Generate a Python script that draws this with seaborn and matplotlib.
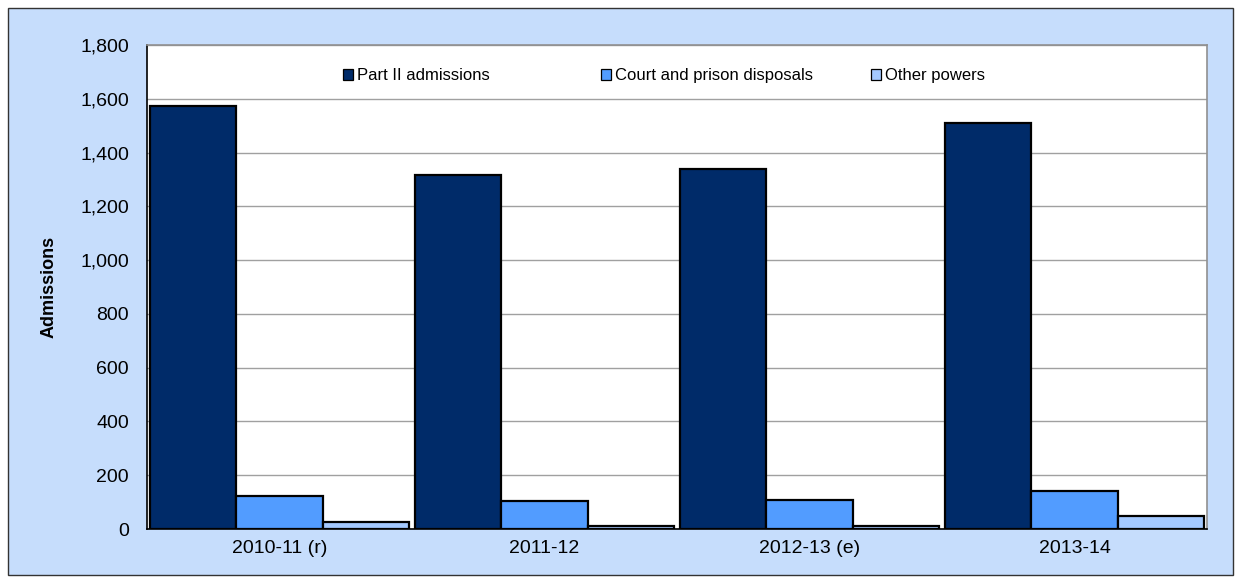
import matplotlib
matplotlib.use("Agg")
import matplotlib.pyplot as plt
from matplotlib.patches import Rectangle
import seaborn as sns
import pandas as pd

years = ["2010-11 (r)", "2011-12", "2012-13 (e)", "2013-14"]
series = ["Part II admissions", "Court and prison disposals", "Other powers"]
part2 = [1575, 1317, 1338, 1510]
court = [122, 105, 107, 141]
other = [25, 10, 10, 49]
yticks = [0, 200, 400, 600, 800, 1000, 1200, 1400, 1600, 1800]
colors = ["#002B69", "#529CFF", "#A4C9FF"]

rows = []
for vals, s in zip([part2, court, other], series):
    for y, v in zip(years, vals):
        rows.append({"Year": y, "Series": s, "Admissions": v})
df = pd.DataFrame(rows)

sns.set_style("white")
plt.rcParams["font.family"] = ["Liberation Sans", "DejaVu Sans"]
plt.rcParams["text.color"] = "black"
plt.rcParams["xtick.color"] = "black"
plt.rcParams["ytick.color"] = "black"
plt.rcParams["axes.labelcolor"] = "black"

fig = plt.figure(figsize=(12.41, 5.83), dpi=100)
fig.patch.set_facecolor("white")
bg = Rectangle((8 / 1241, 8 / 583), 1 - 16 / 1241, 1 - 16 / 583, transform=fig.transFigure,
               facecolor="#C6DDFC", edgecolor="#333333", linewidth=1.0, zorder=-10)
fig.patches.append(bg)

ax = fig.add_axes([147 / 1241, 1 - 529 / 583, (1207 - 147) / 1241, (529 - 45) / 583])
ax.set_facecolor("white")

sns.barplot(data=df, x="Year", y="Admissions", hue="Series", hue_order=series,
            order=years, palette=colors, width=0.98, edgecolor="black",
            linewidth=1.6, saturation=1, ax=ax, zorder=3)

ax.set_ylim(0, 1800)
ax.set_xlim(-0.5, 3.5)
ax.set_yticks(yticks)
ax.set_yticklabels([f"{v:,}" for v in yticks], fontsize=14)
ax.yaxis.grid(True, color="#A0A0A0", linewidth=1.0, zorder=0)
ax.set_axisbelow(True)

ax.set_xticks(range(len(years)))
ax.set_xticklabels(years, fontsize=14)
ax.tick_params(axis="x", which="major", length=0, pad=8)
ax.set_xticks([-0.5, 0.5, 1.5, 2.5, 3.5], minor=True)
ax.tick_params(axis="x", which="minor", length=6, width=1.2, direction="out", color="black")
ax.tick_params(axis="y", length=5, width=1.2, direction="out", color="black", pad=8)

ax.set_xlabel("")
ax.set_ylabel("Admissions", fontsize=13, fontweight="bold", labelpad=16)

for side in ["left", "bottom"]:
    ax.spines[side].set_color("black")
    ax.spines[side].set_linewidth(1.2)
for side in ["top", "right"]:
    ax.spines[side].set_color("#909090")
    ax.spines[side].set_linewidth(1.2)

handles, labels = ax.get_legend_handles_labels()
ax.get_legend().remove()
xpos = [0.185, 0.428, 0.683]
for i, (h, l, x) in enumerate(zip(handles, labels, xpos)):
    h.set_edgecolor("black")
    h.set_linewidth(0.9)
    leg = ax.legend([h], [l], loc="center left", bbox_to_anchor=(x, 0.936),
                    frameon=False, fontsize=12, handlelength=0.6, handleheight=0.6,
                    handletextpad=0.25, borderpad=0, borderaxespad=0)
    if i < len(handles) - 1:
        ax.add_artist(leg)

fig.savefig("out.png", dpi=100, facecolor=fig.get_facecolor())
